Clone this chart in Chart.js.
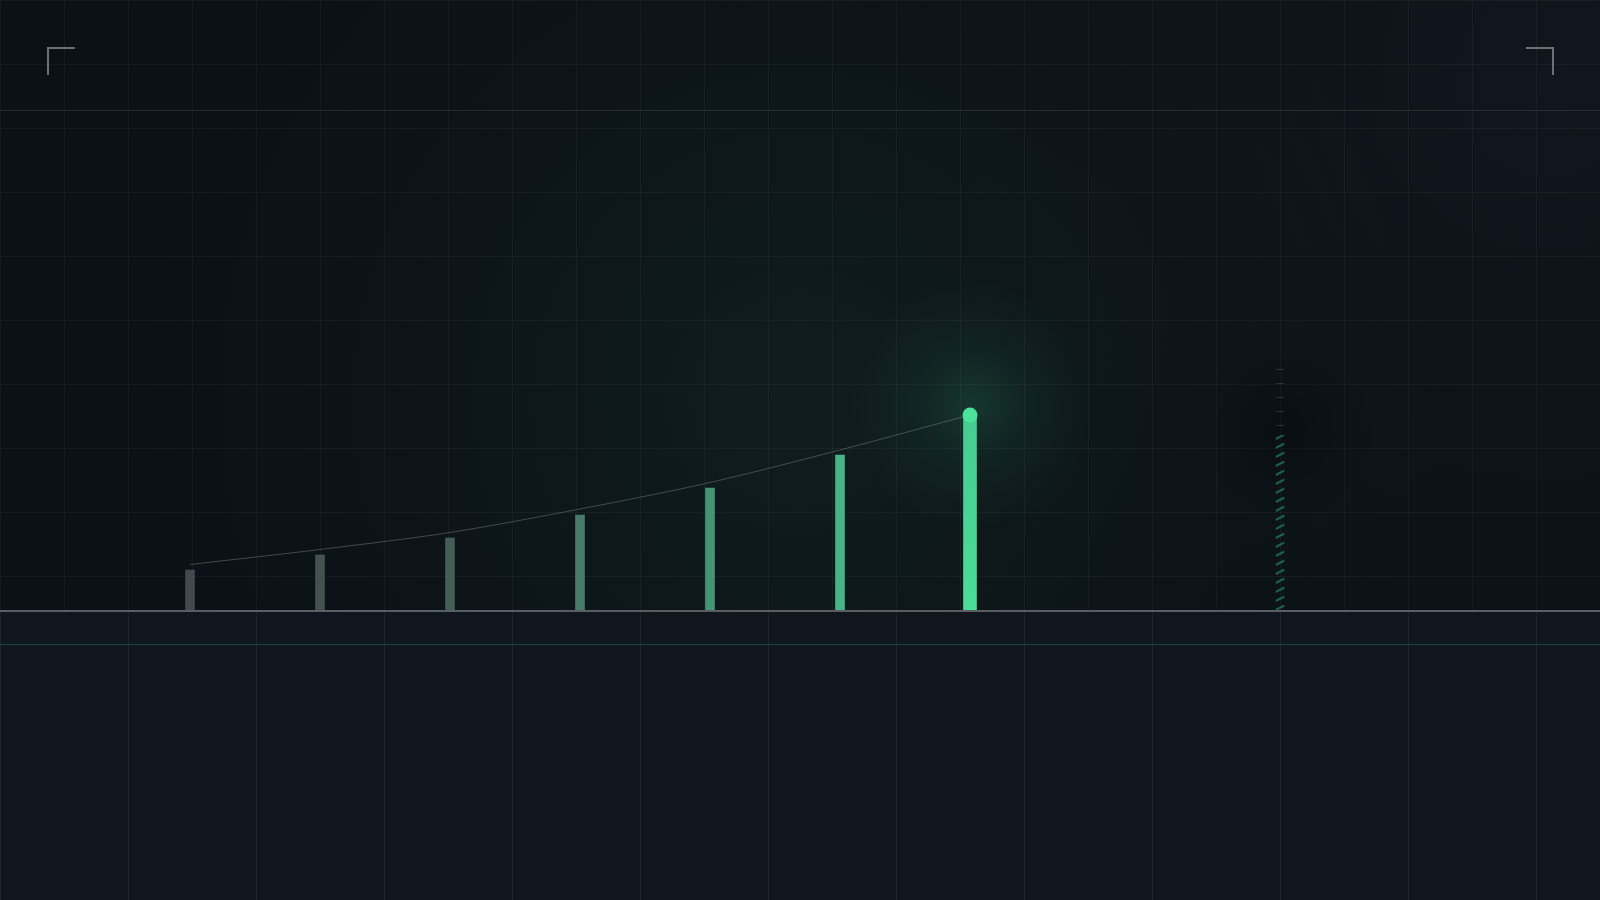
<!DOCTYPE html>
<html>
<head>
<meta charset="utf-8">
<script src="https://cdn.jsdelivr.net/npm/chart.js@4.4.1/dist/chart.umd.min.js"></script>
<style>
  html, body { margin: 0; padding: 0; background: #0b1117; overflow: hidden; }
  canvas { display: block; }
</style>
</head>
<body>
<canvas id="c" width="1600" height="900"></canvas>
<script>
// ---------- data ----------
const periods       = [0, 1, 2, 3, 4, 5, 6];
const barValues     = [8, 11, 14.4, 19, 24.4, 31, 39];
const trendValues   = [9.1, 12.1, 15.5, 20.2, 25.5, 32, 39];
const projectionX   = [8.385];
const projectionLow = [0];
const projectionHigh= [35];
const targetHigh    = [48.2];

// ---------- styles ----------
const barColors = ['#45494c', '#44524f', '#445e57', '#477a68', '#449574', '#47b487'];
const lineColor = 'rgba(150,160,160,0.38)';
const dotColor  = '#4be39c';

const histIdx = periods.slice(0, periods.length - 1);
const lastIdx = periods.length - 1;

const decor = {
  id: 'decor',
  beforeDraw(chart) {
    const { ctx, width: W, height: H } = chart;
    const base = chart.scales.y.getPixelForValue(0);
    const top = chart.chartArea.top;
    ctx.save();
    // upper background
    ctx.fillStyle = '#0b1117';
    ctx.fillRect(0, 0, W, base);
    let g = ctx.createRadialGradient(800, 400, 0, 800, 400, 650);
    g.addColorStop(0, 'rgba(22,44,38,0.45)');
    g.addColorStop(0.6, 'rgba(18,36,32,0.18)');
    g.addColorStop(1, 'rgba(18,36,32,0)');
    ctx.fillStyle = g;
    ctx.fillRect(0, 0, W, base);
    g = ctx.createRadialGradient(1550, 80, 0, 1550, 80, 600);
    g.addColorStop(0, 'rgba(22,28,36,0.45)');
    g.addColorStop(1, 'rgba(22,28,36,0)');
    ctx.fillStyle = g;
    ctx.fillRect(0, 0, W, base);
    // lower background
    ctx.fillStyle = '#10161d';
    ctx.fillRect(0, base, W, H - base);
    // upper fine grid
    ctx.strokeStyle = 'rgba(255,255,255,0.045)';
    ctx.lineWidth = 1;
    ctx.beginPath();
    for (let x = 0; x <= W; x += 64) { ctx.moveTo(x + 0.5, 0); ctx.lineTo(x + 0.5, base); }
    for (let y = 0; y < base; y += 64) { ctx.moveTo(0, y + 0.5); ctx.lineTo(W, y + 0.5); }
    ctx.stroke();
    // lower coarse grid
    ctx.strokeStyle = 'rgba(255,255,255,0.065)';
    ctx.beginPath();
    for (let x = 0; x <= W; x += 128) { ctx.moveTo(x + 0.5, base); ctx.lineTo(x + 0.5, H); }
    ctx.stroke();
    // top separator
    ctx.strokeStyle = 'rgba(255,255,255,0.1)';
    ctx.beginPath(); ctx.moveTo(0, top + 0.5); ctx.lineTo(W, top + 0.5); ctx.stroke();
    // green rule under axis
    ctx.strokeStyle = '#1d4537';
    ctx.beginPath(); ctx.moveTo(0, base + 34.5); ctx.lineTo(W, base + 34.5); ctx.stroke();
    ctx.restore();
  },
  beforeDatasetsDraw(chart) {
    const { ctx } = chart;
    const lineMeta = chart.getDatasetMeta(0);
    const p = lineMeta.data[lineMeta.data.length - 1];
    ctx.save();
    // glow around the latest point
    let g = ctx.createRadialGradient(p.x + 4, p.y - 10, 0, p.x + 4, p.y - 10, 125);
    g.addColorStop(0, 'rgba(60,200,140,0.17)');
    g.addColorStop(0.45, 'rgba(60,200,140,0.06)');
    g.addColorStop(1, 'rgba(60,200,140,0)');
    ctx.fillStyle = g;
    ctx.fillRect(p.x - 200, p.y - 200, 400, 400);
    // dark halo behind projection
    const pm = chart.getDatasetMeta(3).data[0];
    const cy = chart.scales.y.getPixelForValue(36);
    g = ctx.createRadialGradient(pm.x + 6, cy, 0, pm.x + 6, cy, 95);
    g.addColorStop(0, 'rgba(0,0,0,0.3)');
    g.addColorStop(0.6, 'rgba(0,0,0,0.1)');
    g.addColorStop(1, 'rgba(0,0,0,0)');
    ctx.fillStyle = g;
    ctx.fillRect(pm.x - 150, cy - 150, 300, 300);
    ctx.restore();
  },
  afterDatasetsDraw(chart) {
    const { ctx, width: W } = chart;
    const base = chart.scales.y.getPixelForValue(0);
    ctx.save();
    // hatched projection bar
    const pb = chart.getDatasetMeta(3).data[0];
    const l = pb.x - pb.width / 2, r = pb.x + pb.width / 2;
    ctx.beginPath(); ctx.rect(l, pb.y, pb.width, pb.base - pb.y); ctx.clip();
    ctx.strokeStyle = 'rgba(38,125,92,0.72)';
    ctx.lineWidth = 2;
    ctx.beginPath();
    for (let y = pb.base; y > pb.y - 6; y -= 9) {
      ctx.moveTo(l, y); ctx.lineTo(r, y - 4.5);
    }
    ctx.stroke();
    ctx.restore();
    // target dashes
    ctx.save();
    const tb = chart.getDatasetMeta(4).data[0];
    const tl = tb.x - tb.width / 2, tr = tb.x + tb.width / 2;
    ctx.strokeStyle = 'rgba(255,255,255,0.13)';
    ctx.lineWidth = 1.2;
    ctx.beginPath();
    for (let y = tb.y; y < tb.base - 6; y += 14) {
      ctx.moveTo(tl, y + 0.5); ctx.lineTo(tr, y + 0.5);
    }
    ctx.stroke();
    ctx.restore();
    // baseline
    ctx.save();
    ctx.strokeStyle = '#5a5e62';
    ctx.lineWidth = 2;
    ctx.beginPath(); ctx.moveTo(0, base + 1); ctx.lineTo(W, base + 1); ctx.stroke();
    ctx.restore();
  },
  afterDraw(chart) {
    const { ctx, width: W } = chart;
    ctx.save();
    ctx.strokeStyle = '#6c7074';
    ctx.lineWidth = 2;
    ctx.beginPath();
    ctx.moveTo(75, 48); ctx.lineTo(48, 48); ctx.lineTo(48, 75);
    ctx.moveTo(W - 74, 48); ctx.lineTo(W - 47, 48); ctx.lineTo(W - 47, 75);
    ctx.stroke();
    ctx.restore();
  }
};

const ctxEl = document.getElementById('c').getContext('2d');
new Chart(ctxEl, {
  data: {
    datasets: [
      {
        type: 'line',
        order: 0,
        data: periods.map((p, i) => ({ x: p, y: trendValues[i] })),
        borderColor: lineColor,
        borderWidth: 1,
        tension: 0.3,
        pointRadius: periods.map((p, i) => i === lastIdx ? 7.5 : 0),
        pointHoverRadius: 0,
        pointBackgroundColor: dotColor,
        pointBorderWidth: 0
      },
      {
        type: 'bar',
        order: 1,
        grouped: false,
        barThickness: 9,
        data: histIdx.map(i => ({ x: periods[i], y: barValues[i] })),
        backgroundColor: barColors,
        borderWidth: 0
      },
      {
        type: 'bar',
        order: 1,
        grouped: false,
        barThickness: 13,
        data: [{ x: periods[lastIdx], y: barValues[lastIdx] }],
        backgroundColor: (c) => {
          const a = c.chart.chartArea;
          if (!a) return '#4ade96';
          const ys = c.chart.scales.y;
          const g = c.chart.ctx.createLinearGradient(0, ys.getPixelForValue(barValues[lastIdx]), 0, ys.getPixelForValue(0));
          g.addColorStop(0, '#46cc90');
          g.addColorStop(1, '#4adc98');
          return g;
        },
        borderWidth: 0
      },
      {
        type: 'bar',
        order: 1,
        grouped: false,
        barThickness: 9,
        data: projectionX.map((x, i) => ({ x, y: [projectionLow[i], projectionHigh[i]] })),
        backgroundColor: 'rgba(0,0,0,0)',
        borderWidth: 0
      },
      {
        type: 'bar',
        order: 1,
        grouped: false,
        barThickness: 9,
        data: projectionX.map((x, i) => ({ x, y: [projectionHigh[i], targetHigh[i]] })),
        backgroundColor: 'rgba(0,0,0,0)',
        borderWidth: 0
      }
    ]
  },
  options: {
    responsive: false,
    animation: false,
    devicePixelRatio: 1,
    layout: { padding: { left: 60, right: 110, top: 110, bottom: 290 } },
    plugins: { legend: { display: false }, tooltip: { enabled: false } },
    events: [],
    scales: {
      x: { type: 'linear', min: -1, max: 10, display: false, offset: false },
      y: { type: 'linear', min: 0, max: 100, display: false }
    }
  },
  plugins: [decor]
});
</script>
</body>
</html>
